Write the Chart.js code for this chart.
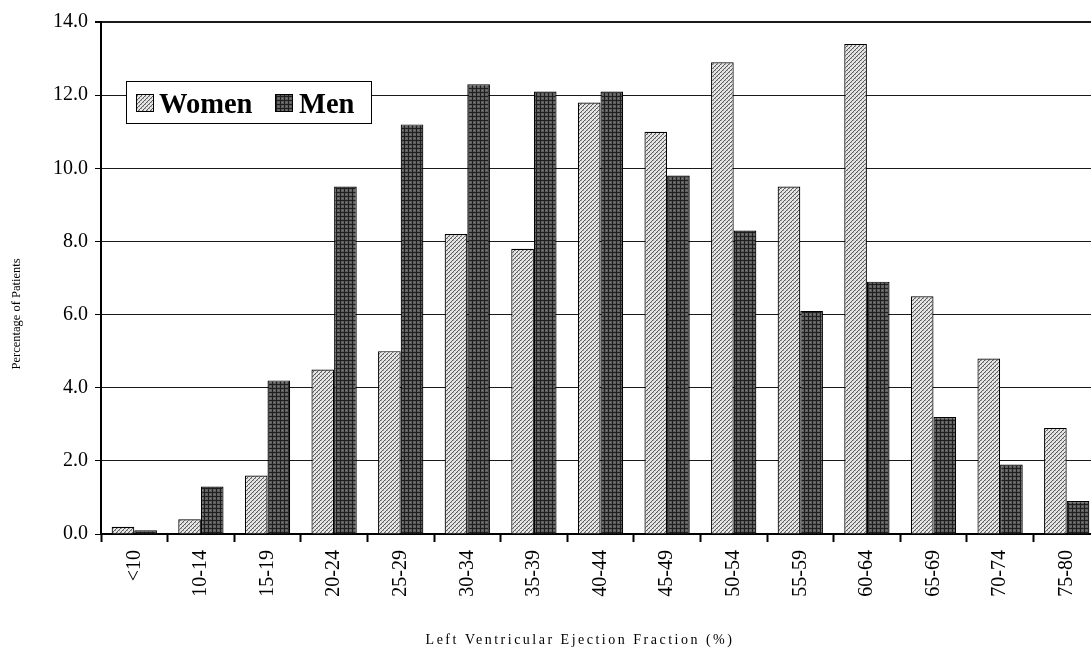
<!DOCTYPE html>
<html>
<head>
<meta charset="utf-8">
<script src="https://cdn.jsdelivr.net/npm/chart.js@4"></script>
<style>
  html, body { margin: 0; padding: 0; background: #fff; overflow: hidden; }
  #wrap { width: 1100px; height: 662px; }
</style>
</head>
<body>
<div id="wrap"><canvas id="lvef" width="1100" height="662"></canvas></div>
<script>
// ejection fraction bands
const categories = ['<10', '10-14', '15-19', '20-24', '25-29', '30-34', '35-39', '40-44',
	'45-49', '50-54', '55-59', '60-64', '65-69', '70-74', '75-80'];
// percentage of patients per band
const women = [0.2, 0.4, 1.6, 4.5, 5.0, 8.2, 7.8, 11.8, 11.0, 12.9, 9.5, 13.4, 6.5, 4.8, 2.9];
const men = [0.1, 1.3, 4.2, 9.5, 11.2, 12.3, 12.1, 12.1, 9.8, 8.3, 6.1, 6.9, 3.2, 1.9, 0.9];
const yTicks = [0, 2, 4, 6, 8, 10, 12, 14];

const serif = '"Liberation Serif", "Times New Roman", serif';

// small fill patterns like the old excel hatching
function make_pattern(kind) {
	let c = document.createElement('canvas');
	c.width = 4; c.height = 4;
	let g = c.getContext('2d');
	if (kind == 'women') {
		g.fillStyle = '#e6e6e6';
		g.fillRect(0, 0, 4, 4);
		for (let x = 0; x < 4; x++) {
			for (let y = 0; y < 4; y++) {
				if ((x + y) % 4 == 0) { g.fillStyle = '#5c5c5c'; g.fillRect(x, y, 1, 1); }
				if ((x + y) % 4 == 1 && y % 2 == 0) { g.fillStyle = '#a8a8a8'; g.fillRect(x, y, 1, 1); }
			}
		}
	} else {
		g.fillStyle = '#5e5e5e';
		g.fillRect(0, 0, 4, 4);
		g.fillStyle = '#1e1e1e';
		g.fillRect(0, 0, 4, 1);
		g.fillRect(0, 0, 1, 4);
		g.fillStyle = '#7a7a7a';
		g.fillRect(2, 2, 1, 1);
	}
	return g.createPattern(c, 'repeat');
}

const fillWomen = make_pattern('women');
const fillMen = make_pattern('men');

// legend box and axis titles drawn by hand
const extras = {
	id: 'extras',
	afterDraw(chart) {
		const ctx = chart.ctx;
		ctx.save();

		// legend
		ctx.fillStyle = '#fff';
		ctx.fillRect(126, 81, 245, 42);
		ctx.strokeStyle = '#000';
		ctx.lineWidth = 1;
		ctx.strokeRect(126.5, 81.5, 245, 42);

		ctx.fillStyle = fillWomen;
		ctx.fillRect(136, 94, 18, 18);
		ctx.strokeRect(136.5, 94.5, 17, 17);
		ctx.fillStyle = fillMen;
		ctx.fillRect(275, 94, 18, 18);
		ctx.strokeRect(275.5, 94.5, 17, 17);

		ctx.fillStyle = '#000';
		ctx.font = 'bold 28.5px ' + serif;
		ctx.textBaseline = 'alphabetic';
		ctx.textAlign = 'left';
		ctx.fillText('Women', 159, 113);
		ctx.fillText('Men', 299, 113);

		// y title
		ctx.font = '12.5px ' + serif;
		ctx.textAlign = 'center';
		ctx.textBaseline = 'middle';
		ctx.save();
		ctx.translate(17, 314);
		ctx.rotate(-Math.PI / 2);
		ctx.fillText('Percentage of Patients', 0, 0);
		ctx.restore();

		// x title, spaced out letters
		ctx.font = '14px ' + serif;
		ctx.letterSpacing = '2.5px';
		ctx.fillText('Left Ventricular Ejection Fraction (%)', 580, 640);

		ctx.restore();
	}
};

const data = {
	labels: categories,
	datasets: [
		{
			label: 'Women',
			data: women,
			backgroundColor: fillWomen,
			borderColor: '#000',
			borderWidth: 1.2,
			categoryPercentage: 0.68,
			barPercentage: 1.0
		},
		{
			label: 'Men',
			data: men,
			backgroundColor: fillMen,
			borderColor: '#000',
			borderWidth: 1.2,
			categoryPercentage: 0.68,
			barPercentage: 1.0
		}
	]
};

const config = {
	type: 'bar',
	data,
	plugins: [extras],
	options: {
		responsive: false,
		animation: false,
		layout: { padding: { top: 22, left: 0, right: 0, bottom: 0 } },
		plugins: {
			legend: { display: false },
			tooltip: { enabled: false }
		},
		scales: {
			y: {
				min: 0,
				max: 14,
				afterBuildTicks: (axis) => { axis.ticks = yTicks.map(v => ({ value: v })); },
				afterFit: (axis) => { axis.width = 101; },
				ticks: {
					color: '#000',
					font: { family: serif, size: 20 },
					padding: 7,
					callback: (v) => Number(v).toFixed(1)
				},
				grid: {
					color: '#1a1a1a',
					lineWidth: (c) => (c.tick && c.tick.value == 14 ? 2 : 1),
					tickLength: 6,
					tickColor: '#000'
				},
				border: { display: true, color: '#000', width: 2 }
			},
			x: {
				afterFit: (axis) => { axis.height = 128; },
				ticks: {
					color: '#000',
					font: { family: serif, size: 20 },
					minRotation: 90,
					maxRotation: 90,
					autoSkip: false,
					padding: 8
				},
				grid: {
					offset: true,
					drawOnChartArea: false,
					drawTicks: true,
					tickLength: 8,
					tickColor: '#000',
					tickWidth: 2
				},
				border: { display: true, color: '#000', width: 2 }
			}
		}
	}
};

new Chart(document.getElementById('lvef'), config);
</script>
</body>
</html>
